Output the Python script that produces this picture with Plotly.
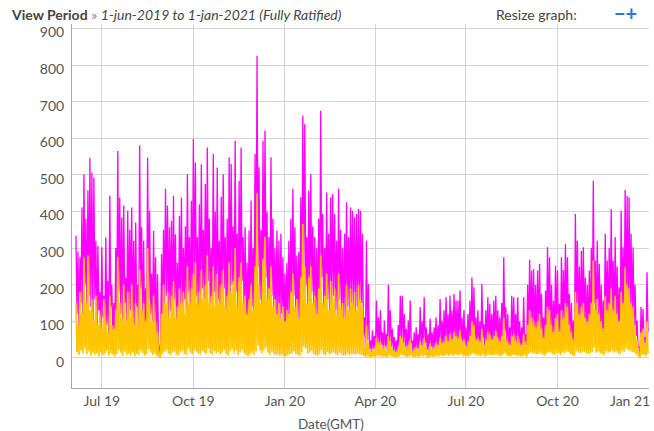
import numpy as np
import pandas as pd
import plotly.graph_objects as go

# ---- data (2-day slots starting 5-jun-2019: peak value, then trough value next day) ----
slot_start = "2019-06-05"

mag_hi = [
    334, 290, 275, 411, 502, 380, 457, 547, 506, 493,
    320, 306, 180, 302, 170, 329, 211, 443, 200, 150,
    300, 565, 438, 384, 416, 220, 402, 350, 411, 320,
    370, 200, 580, 357, 320, 190, 547, 402, 230, 347,
    275, 229, 25, 284, 350, 462, 416, 357, 375, 443,
    338, 260, 388, 438, 300, 360, 502, 330, 429, 598,
    534, 330, 420, 529, 350, 475, 575, 380, 300, 557,
    400, 520, 320, 440, 502, 330, 380, 548, 530, 360,
    593, 340, 484, 575, 330, 357, 260, 348, 430, 300,
    557, 825, 521, 350, 593, 621, 400, 330, 548, 380,
    300, 348, 320, 339, 275, 230, 260, 320, 380, 462,
    357, 280, 290, 439, 662, 639, 330, 457, 502, 360,
    330, 300, 380, 675, 393, 300, 452, 340, 439, 448,
    393, 320, 462, 350, 300, 339, 425, 330, 411, 402,
    384, 393, 407, 402, 339, 111, 320, 202, 48, 75,
    60, 157, 111, 130, 70, 102, 66, 200, 130, 80,
    57, 48, 90, 170, 170, 120, 80, 102, 157, 48,
    70, 84, 66, 139, 100, 166, 84, 66, 107, 70,
    84, 111, 90, 161, 102, 130, 166, 120, 170, 130,
    175, 157, 157, 184, 110, 130, 84, 120, 157, 220,
    193, 111, 130, 100, 202, 93, 130, 166, 148, 120,
    157, 170, 130, 111, 150, 275, 139, 120, 84, 170,
    166, 120, 166, 100, 84, 166, 66, 200, 268, 239,
    243, 200, 239, 257, 175, 111, 184, 302, 275, 200,
    157, 252, 239, 148, 275, 240, 311, 275, 175, 150,
    102, 393, 320, 250, 293, 302, 220, 200, 239, 300,
    484, 266, 320, 257, 200, 157, 339, 266, 300, 407,
    266, 330, 250, 193, 402, 302, 459, 443, 439, 339,
    302, 200, 102, 30, 139, 134, 57, 234,
]

mag_lo = [
    120, 90, 150, 80, 200, 110, 170, 140, 90, 160,
    70, 130, 60, 110, 80, 90, 50, 140, 70, 60,
    100, 180, 120, 90, 150, 80, 110, 130, 90, 70,
    140, 60, 190, 100, 80, 70, 160, 120, 90, 100,
    60, 40, 10, 90, 150, 170, 110, 130, 90, 160,
    100, 80, 140, 120, 160, 110, 180, 130, 150, 200,
    170, 120, 140, 190, 160, 130, 210, 150, 110, 180,
    140, 160, 120, 150, 190, 130, 100, 170, 200, 140,
    180, 120, 150, 210, 130, 100, 90, 110, 140, 120,
    180, 250, 160, 140, 200, 220, 150, 120, 170, 130,
    90, 110, 100, 120, 80, 70, 90, 110, 130, 170,
    120, 100, 90, 150, 240, 200, 130, 160, 180, 140,
    110, 90, 130, 220, 140, 110, 160, 120, 150, 170,
    130, 100, 160, 120, 90, 110, 140, 120, 150, 130,
    120, 140, 130, 150, 60, 30, 50, 25, 15, 25,
    20, 40, 30, 35, 20, 30, 18, 45, 30, 20,
    15, 12, 25, 45, 40, 30, 20, 28, 40, 12,
    20, 25, 18, 35, 25, 40, 22, 18, 30, 20,
    25, 30, 22, 40, 28, 35, 45, 30, 45, 35,
    45, 40, 38, 50, 30, 35, 22, 30, 40, 60,
    50, 30, 35, 25, 55, 25, 35, 45, 40, 30,
    40, 45, 35, 30, 40, 70, 35, 30, 22, 45,
    45, 30, 40, 25, 22, 45, 18, 55, 80, 70,
    65, 55, 70, 75, 50, 30, 55, 90, 80, 55,
    40, 75, 70, 40, 80, 70, 95, 85, 50, 40,
    25, 120, 95, 70, 90, 95, 65, 55, 70, 90,
    150, 80, 100, 75, 55, 45, 110, 80, 90, 130,
    80, 100, 75, 55, 120, 90, 140, 130, 130, 100,
    90, 60, 30, 8, 40, 45, 20, 70,
]

org_hi = [
    150, 90, 180, 120, 275, 150, 280, 130, 160, 100,
    170, 90, 120, 80, 160, 100, 70, 170, 90, 80,
    130, 275, 150, 110, 200, 100, 180, 110, 200, 90,
    150, 90, 240, 130, 150, 100, 300, 150, 100, 170,
    100, 70, 8, 120, 200, 150, 180, 110, 170, 210,
    110, 140, 190, 150, 180, 120, 250, 150, 190, 230,
    260, 150, 180, 240, 160, 200, 280, 150, 170, 250,
    140, 230, 150, 200, 240, 140, 170, 260, 180, 210,
    300, 140, 220, 260, 150, 170, 120, 160, 200, 130,
    250, 450, 200, 150, 270, 330, 160, 190, 250, 140,
    160, 120, 150, 110, 140, 100, 130, 120, 180, 230,
    140, 160, 110, 220, 366, 250, 150, 220, 250, 150,
    170, 120, 190, 280, 150, 170, 230, 130, 210, 160,
    190, 120, 230, 140, 150, 110, 200, 130, 190, 150,
    180, 130, 200, 160, 140, 30, 90, 40, 15, 25,
    20, 55, 40, 45, 25, 35, 20, 60, 45, 25,
    20, 15, 30, 60, 55, 40, 25, 35, 50, 15,
    25, 30, 20, 45, 35, 55, 30, 20, 40, 25,
    30, 40, 35, 55, 40, 45, 60, 45, 65, 50,
    70, 60, 55, 75, 45, 50, 30, 45, 60, 100,
    90, 50, 55, 45, 80, 35, 50, 70, 65, 50,
    60, 75, 55, 45, 60, 110, 55, 45, 35, 60,
    65, 45, 60, 40, 35, 65, 30, 90, 130, 110,
    100, 85, 100, 120, 80, 55, 90, 140, 130, 90,
    70, 110, 120, 70, 130, 110, 150, 140, 90, 70,
    50, 180, 150, 120, 140, 150, 110, 100, 120, 150,
    266, 130, 160, 120, 100, 80, 170, 130, 150, 190,
    130, 170, 120, 100, 180, 150, 248, 200, 190, 150,
    140, 90, 50, 10, 70, 80, 40, 100,
]

org_lo = [
    15, 8, 20, 12, 25, 10, 18, 6, 14, 9,
    12, 5, 16, 8, 11, 20, 7, 13, 9, 4,
    10, 22, 14, 6, 18, 9, 12, 7, 15, 5,
    11, 8, 20, 13, 6, 10, 24, 15, 8, 12,
    6, 4, 2, 10, 16, 22, 12, 8, 14, 18,
    9, 7, 15, 20, 11, 8, 25, 14, 10, 22,
    18, 12, 9, 20, 15, 11, 26, 13, 8, 19,
    12, 16, 9, 14, 22, 10, 7, 18, 24, 13,
    20, 9, 15, 22, 12, 8, 5, 10, 14, 9,
    18, 35, 20, 12, 22, 28, 14, 9, 17, 11,
    7, 10, 6, 9, 5, 4, 8, 10, 12, 18,
    11, 8, 6, 15, 30, 25, 12, 14, 20, 10,
    8, 6, 12, 22, 10, 8, 16, 9, 13, 15,
    10, 7, 14, 9, 6, 8, 12, 7, 10, 11,
    9, 12, 10, 8, 6, 3, 5, 3, 2, 4,
    3, 6, 4, 5, 3, 4, 2, 7, 5, 3,
    2, 2, 4, 8, 6, 5, 3, 4, 6, 2,
    3, 4, 2, 6, 4, 7, 3, 2, 5, 3,
    4, 5, 4, 7, 5, 6, 8, 5, 9, 6,
    9, 8, 7, 10, 5, 6, 4, 5, 8, 12,
    10, 6, 7, 5, 10, 4, 6, 9, 8, 6,
    8, 9, 7, 5, 8, 14, 6, 5, 4, 8,
    8, 5, 7, 4, 4, 8, 3, 10, 15, 12,
    12, 10, 11, 14, 9, 6, 10, 16, 15, 10,
    8, 13, 14, 8, 15, 12, 18, 16, 10, 8,
    5, 20, 16, 12, 15, 17, 12, 10, 13, 16,
    28, 14, 18, 13, 10, 8, 19, 14, 16, 21,
    14, 18, 12, 10, 20, 16, 26, 22, 20, 16,
    15, 10, 5, 1, 8, 9, 4, 11,
]

tick_dates = ["2019-07-01", "2019-10-01", "2020-01-01", "2020-04-01", "2020-07-01", "2020-10-01"]
tick_text = ["Jul 19", "Oct 19", "Jan 20", "Apr 20", "Jul 20", "Oct 20"]
last_tick_text = "Jan 21"
y_ticks = [0, 100, 200, 300, 400, 500, 600, 700, 800, 900]


def interleave(hi, lo):
    t0 = pd.Timestamp(slot_start)
    xs, ys = [], []
    for k, (h, l) in enumerate(zip(hi, lo)):
        xs.append(t0 + pd.Timedelta(days=2 * k))
        ys.append(h)
        xs.append(t0 + pd.Timedelta(days=2 * k + 1))
        ys.append(l)
    return xs, ys


mx, my = interleave(mag_hi, mag_lo)
ox, oy = interleave(org_hi, org_lo)

fig = go.Figure()
fig.add_trace(go.Scatter(x=mx, y=my, mode="lines",
                         line=dict(color="#FF00FF", width=1.3), hoverinfo="skip"))
fig.add_trace(go.Scatter(x=ox, y=oy, mode="lines",
                         line=dict(color="#FFC400", width=1.6), hoverinfo="skip"))

grid = "#d4d4d4"
fig.update_layout(
    width=654, height=431,
    margin=dict(l=72, r=5, t=24, b=43),
    paper_bgcolor="white", plot_bgcolor="white",
    showlegend=False,
    font=dict(family="Lato", size=13, color="#555555"),
    xaxis=dict(
        type="date", range=["2019-06-01", "2021-01-01"],
        tickmode="array", tickvals=tick_dates, ticktext=tick_text,
        showgrid=True, gridcolor=grid, gridwidth=1,
        showline=True, linecolor="#aaaaaa", linewidth=1,
        ticks="", tickfont=dict(size=14, color="#555555"),
        ticklabelstandoff=0, zeroline=False,
    ),
    yaxis=dict(
        range=[-82, 912], tickmode="array", tickvals=y_ticks,
        showgrid=True, gridcolor=grid, gridwidth=1,
        showline=True, linecolor="#aaaaaa", linewidth=1,
        ticks="", tickfont=dict(size=14, color="#555555"),
        ticklabelstandoff=4, ticklabelshift=4, zeroline=False,
    ),
)

annots = [
    dict(text="<b>View Period</b> <span style='color:#888'>»</span> <i>1-jun-2019 to 1-jan-2021 (Fully Ratified)</i>",
         x=-0.109, y=1.027, xanchor="left", yanchor="middle",
         font=dict(size=14, color="#444444")),
    dict(text="Resize graph:", x=0.731, y=1.027, xanchor="left", yanchor="middle",
         font=dict(size=14, color="#444444")),
    dict(text="<b>−+</b>", x=0.936, y=1.029, xanchor="left", yanchor="middle",
         font=dict(size=20, color="#2f78c4")),
    dict(text=last_tick_text, x=0.967, y=-0.033, xanchor="center", yanchor="middle",
         font=dict(size=14, color="#555555")),
    dict(text="Date(GMT)", x=0.449, y=-0.1, xanchor="center", yanchor="middle",
         font=dict(size=13.5, color="#555555")),
]
for a in annots:
    a.update(xref="paper", yref="paper", showarrow=False)
    fig.add_annotation(**a)

fig.write_html("out.html", config={"displayModeBar": False},
               post_script="document.body.style.margin='0';")
